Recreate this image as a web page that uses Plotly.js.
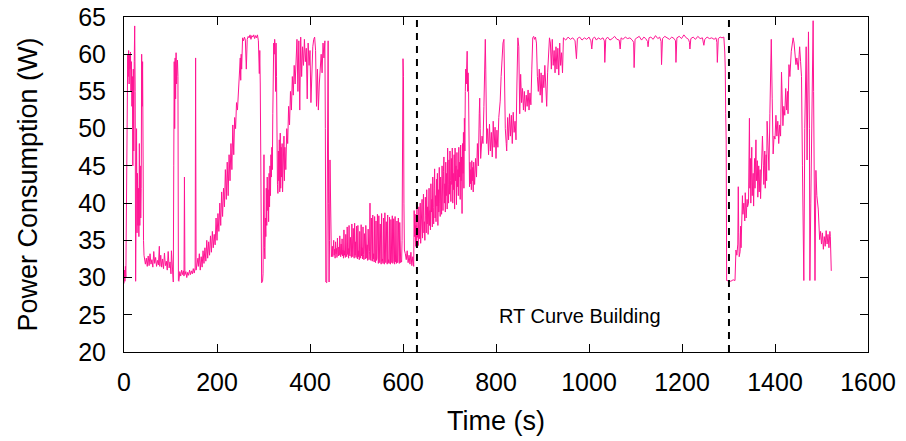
<!DOCTYPE html>
<html>
<head>
<meta charset="utf-8">
<script src="https://cdn.plot.ly/plotly-3.0.1.min.js"></script>
<style>html,body{margin:0;padding:0;background:#fff;}#chart{width:906px;height:441px;}</style>
</head>
<body>
<div id="chart"></div>
<script>
// [time (s), power (W)] samples, grouped by phase
const startup = [[0,29.2],[1,31],[2,29.5],[3,31.5],[4,30],[5,38],[6,52],[8,60],[9,57],[10,60.5],[11,56],[12,60],[13,58],[14,60.3],[15,55],[16,59],[17,53],[18,57],[19,45],[20,58],[21,47],[22,59],[23,63.8],[24,55],[25,29.5],[26,38],[27,50],[28,36],[29,44],[30,37],[31,42],[32,35.5],[33,48],[34,37],[35,45],[36,38],[37,42],[38,60],[39,53],[40,59],[41,40],[42,35],[43,33]];
const idle1 = [[44,32.5],[46,31.8],[48,32.6],[50,31.5],[52,32.9],[54,31.6],[56,33.2],[58,31.8],[60,32.4],[62,31.4],[64,33.5],[66,31.9],[68,32.7],[70,31.5],[72,32.3],[74,31.7],[76,34.2],[77,31.5],[79,33.0],[81,31.4],[83,32.5],[85,31.2],[87,33.3],[89,31.6],[91,32.2],[93,31.0],[95,33.5],[97,31.3],[99,32.1],[101,30.5],[102,33.6],[104,30.2],[105,29.4],[106,29.4],[107,45],[108,59],[109,50],[110,59.5],[111,54],[112,60.2],[113,56],[114,58],[115,59.2],[116,57],[117,29.6],[118,29.5],[120,30.8],[122,30.2],[124,31.0],[126,30.4],[128,30.9],[129,30.2],[130,43.5],[131,30.4],[133,30.8],[135,30.0],[137,30.7],[139,30.3],[141,31.0],[143,30.4],[145,30.9],[147,30.5],[149,31.2],[151,30.6],[153,31.3],[154,59.5],[155,31],[157,31.8],[159,32.6]];
const ramp1 = [[160,31.5],[162,33.2],[164,31.0],[166,32.8],[168,31.4],[170,33.6],[172,31.9],[174,34.0],[176,32.2],[178,35.0],[180,32.6],[182,34.8],[184,33.0],[186,35.6],[188,33.4],[190,36.2],[192,34.0],[194,35.8],[196,34.4],[198,38.0],[200,35.0],[202,38.6],[204,36.2],[206,40.0],[208,37.0],[210,41.5],[212,38.2],[214,42.0],[216,39.5],[218,44.5],[220,40.5],[222,45.5],[224,41.0],[226,46.5],[228,43.0],[230,48.0],[232,44.5],[234,50.5],[236,46.5],[238,51.5],[240,50.0],[242,53.5],[244,52.5],[246,54.5],[248,56.0],[250,59.5],[251,56.5],[252,60.0],[253,58.0],[255,62.2],[257,61.8],[259,62.3],[261,61.9],[263,58.0],[265,62.0],[267,62.4],[269,62.2],[271,62.6],[273,62.0],[275,62.5],[277,62.3],[279,62.6],[281,62.1],[283,62.5],[285,62.2],[287,62.6],[289,61.8],[291,57.4],[292,60.5],[293,56],[294,49.8],[295,40],[296,29.3],[298,29.5],[299,30.5]];
const burst1 = [[300,38],[301,46.5],[302,34],[303,32.5],[304,38],[305,35.5],[306,42],[307,37],[308,43.5],[309,39],[310,41.8],[311,37.5],[312,44],[313,39.5],[314,45],[315,41],[316,46.5],[317,43.5],[318,47.5],[319,44.5],[320,52],[321,58],[322,61.5],[323,60],[324,62],[325,61],[326,55],[327,61.5],[328,57],[329,45],[330,42.5],[331,41.3],[332,47],[333,43],[334,48.5],[335,41.5],[336,49.4],[337,42],[338,47.5],[339,43.5],[340,48],[341,41.5],[342,46],[343,44],[344,49],[345,43],[346,47.5],[348,44.5],[350,50],[352,48],[354,53],[356,50.5],[358,55],[360,52.5],[362,57],[364,54.5],[366,58.5],[368,56],[370,60],[372,62],[374,55],[376,61.8],[378,52.5],[380,62.3],[382,57],[384,61],[386,58.5],[388,62],[390,59],[392,60.8],[394,54],[396,61.5],[398,58.5],[400,60.5],[402,53.5],[404,59.5],[406,61],[408,62],[410,62.3],[412,60.5],[414,53],[416,58],[418,52.5],[420,56],[422,58.5],[424,60],[426,57.5],[428,61.5],[430,59.5],[432,61.8],[433,50],[434,29.4],[436,29.3],[437,45],[438,58],[439,61.8],[440,40],[441,29.4],[442,35],[443,45.8],[444,40],[445,34],[446,32.8]];
const idle2 = [[447,33.3],[448,34.2],[449,32.8],[450,33.6],[451,35.0],[452,33.0],[453,33.8],[454,32.6],[455,34.8],[456,33.2],[457,33.9],[458,32.7],[459,35.3],[460,33.4],[461,32.9],[462,34.1],[463,33.0],[464,35.6],[465,33.3],[466,32.8],[467,34.5],[468,33.1],[469,35.2],[470,32.9],[471,33.7],[472,32.6],[473,36.4],[474,33.0],[475,33.6],[476,32.7],[477,35.8],[478,33.2],[479,32.8],[480,36.8],[481,33.1],[482,33.9],[483,32.6],[484,37.0],[485,33.3],[486,32.9],[487,35.4],[488,33.0],[489,32.7],[490,37.2],[491,33.4],[492,32.8],[493,36.6],[494,33.1],[495,32.6],[496,37.3],[497,33.0],[498,34.8],[499,32.7],[500,36.9],[501,33.2],[502,32.5],[503,37.0],[504,32.8],[505,33.6],[506,32.4],[507,36.2],[508,33.0],[509,32.6],[510,37.1],[511,32.9],[512,34.0],[513,32.5],[514,36.8],[515,33.1],[516,32.4],[517,35.9],[518,32.8],[519,32.5],[520,37.0],[521,33.0],[522,32.6],[523,34.4],[524,32.3],[525,36.5],[526,32.8],[527,32.4],[528,33.5],[529,40.0],[530,32.6],[531,32.3],[532,38.0],[533,32.7],[534,32.2],[535,38.4],[536,32.5],[537,33.2],[538,32.1],[539,38.2],[540,32.4],[541,32.0],[542,37.6],[543,32.3],[544,32.6],[545,38.5],[546,32.2],[547,31.9],[548,38.3],[549,32.4],[550,32.0],[551,37.2],[552,32.3],[553,31.8],[554,38.6],[555,32.2],[556,32.5],[557,31.9],[558,38.0],[559,32.1],[560,31.8],[561,38.7],[562,32.3],[563,32.0],[564,37.5],[565,32.2],[566,31.8],[567,38.4],[568,32.0],[569,32.4],[570,31.9],[571,38.1],[572,32.1],[573,31.8],[574,37.8],[575,32.3],[576,32.0],[577,38.3],[578,31.9],[579,32.2],[580,37.9],[581,32.0],[582,31.8],[583,38.2],[584,32.1],[585,32.3],[586,31.9],[587,37.6],[588,32.0],[589,32.2],[590,38.0],[591,32.1],[592,31.9],[593,37.4],[594,32.2],[595,32.0],[596,32.3],[597,32.1],[598,35],[599,45],[600,59.4],[601,57],[602,40],[603,33.7],[605,33.2],[607,32.4],[609,33.6],[611,32.0],[613,33.0],[615,31.8],[617,33.4],[619,31.6],[621,32.8],[623,31.5],[624,39]];
const rtBuild = [[625,35.5],[626,38.5],[627,34.2],[628,37.0],[629,34.8],[630,39.2],[631,35.4],[632,36.6],[633,34.3],[634,39.5],[635,36.5],[636,35.2],[637,40.0],[638,34.6],[639,37.8],[640,36.0],[641,40.5],[642,35.3],[643,38.2],[644,41.2],[645,36.0],[646,37.5],[647,35.0],[648,40.8],[649,38.3],[650,36.0],[651,41.8],[652,37.2],[653,39.5],[654,35.8],[655,40.6],[656,42.0],[657,37.0],[658,39.0],[659,36.4],[660,42.6],[661,38.8],[662,40.5],[663,36.8],[664,43.5],[665,39.4],[666,37.2],[667,42.0],[668,44.6],[669,38.0],[670,41.0],[671,37.5],[672,43.2],[673,39.6],[674,44.0],[675,37.0],[676,41.8],[677,38.8],[678,44.8],[679,40.0],[680,38.2],[681,43.5],[682,40.6],[683,38.5],[684,45.0],[685,41.5],[686,39.0],[687,44.2],[688,46.2],[689,40.0],[690,42.6],[691,38.8],[692,45.5],[693,41.0],[694,44.0],[695,39.2],[696,47.4],[697,42.5],[698,40.0],[699,45.8],[700,41.2],[701,47.0],[702,43.0],[703,40.2],[704,46.0],[705,42.5],[706,47.4],[707,40.0],[708,44.0],[709,41.8],[710,46.5],[711,39.2],[712,47.4],[713,43.0],[714,45.0],[715,39.8],[716,46.8],[717,42.2],[718,44.5],[719,41.0],[720,47.5],[721,43.5],[722,45.5],[723,40.5],[724,47.8],[725,43.0],[726,46.2],[727,38.6],[728,48.0],[729,44.0],[730,49.5],[731,42.0],[732,51.4],[733,47],[734,55],[735,58],[736,56],[737,59.8],[738,60.4],[739,55],[740,57.5],[741,55],[742,46],[743,42.2],[744,45.5],[745,42.6],[746,44.5],[747,41.8],[748,45.7],[749,43],[750,44.8],[751,41.5],[752,45.5],[753,43.5],[754,42.5],[756,46],[758,43.5],[760,48],[762,45],[764,52],[765,54.1],[766,50],[767,46],[768,47],[770,49],[772,48],[774,53],[776,58],[777,62],[778,58],[779,50],[780,48],[782,50],[784,46.5],[786,50.6],[788,47.0],[790,49.5],[792,46.2],[794,51.0],[796,47.5],[798,50.2],[800,46.0],[802,49.8],[804,47.5],[806,51.5],[808,52.5],[809,53.7],[811,57],[813,60],[815,61.5],[817,62],[818,56],[820,50],[822,48],[823,47],[825,51.5],[827,48.5],[829,52],[831,49],[833,51.8],[835,48],[837,52.2],[839,49.5],[841,51],[843,48.5],[845,56],[847,62.2],[849,61],[850,56],[851,52],[853,57.3],[855,53.5],[857,55.4],[859,52.5],[861,55],[863,52.3],[865,54.5],[867,53],[869,55.2],[871,52.5],[873,54.8],[875,53.2],[877,58],[879,62.2],[881,62.4],[883,62.0],[885,62.3],[887,61.5],[889,57],[891,55],[893,58],[895,54.5],[897,57.5],[899,53.5],[901,57.2],[903,55.5],[905,58.5],[907,54.8],[909,53],[911,57.5],[913,60],[915,62.2],[917,61.5],[919,58],[921,62],[923,58.5],[925,60.5],[927,57.5],[929,61],[931,58],[933,60.8],[935,57.2],[937,61.5],[939,58.5],[941,60.2],[943,57.5]];
const plateau = [[945,62.2],[950,61.9],[955,62.3],[960,62.0],[965,62.2],[970,61.8],[973,59.4],[975,62.1],[980,62.3],[985,61.9],[990,62.2],[995,62.0],[1000,62.3],[1004,61.8],[1006,60.7],[1008,62.1],[1012,62.3],[1016,61.9],[1020,62.2],[1025,62.0],[1030,62.2],[1033,61.8],[1034,58.9],[1036,62.0],[1040,62.3],[1045,61.9],[1050,62.1],[1055,62.4],[1060,62.0],[1065,61.9],[1067,60.7],[1069,62.2],[1073,62.0],[1078,62.3],[1083,62.1],[1088,62.2],[1093,61.9],[1096,61.6],[1097,58.2],[1099,62.0],[1103,62.2],[1108,62.4],[1113,61.9],[1118,62.3],[1122,62.1],[1126,61.7],[1127,61.0],[1129,62.2],[1133,62.3],[1138,62.0],[1143,62.5],[1148,62.1],[1152,62.3],[1155,61.7],[1156,58.6],[1158,62.1],[1163,62.4],[1168,62.2],[1173,62.0],[1178,62.3],[1183,62.1],[1186,61.8],[1187,58.9],[1189,62.2],[1194,62.4],[1199,62.1],[1204,62.6],[1209,62.2],[1214,62.0],[1216,61.6],[1217,60.7],[1219,62.1],[1224,62.3],[1229,62.0],[1234,62.4],[1239,62.1],[1244,62.2],[1246,61.5],[1247,61.2],[1249,62.0],[1254,62.3],[1259,62.1],[1264,62.2],[1269,62.0],[1273,62.2],[1275,61.6],[1276,58.9],[1278,62.1],[1282,62.3],[1286,62.2],[1290,62.3],[1292,60.3],[1293,58],[1294,52],[1295,48.5]];
const finale = [[1296,29.6],[1300,29.6],[1305,29.5],[1310,29.7],[1314,29.6],[1316,33.7],[1318,33.0],[1320,34.5],[1321,42.2],[1322,36],[1323,32.8],[1325,33.5],[1326,36.9],[1327,34],[1329,38],[1330,41.0],[1331,38.5],[1333,40],[1335,37.6],[1336,41.4],[1338,38],[1340,40.5],[1341,39.5],[1343,40],[1345,51.4],[1346,42],[1347,46],[1348,40],[1350,47.5],[1351,41],[1353,44],[1354,39.6],[1356,46],[1357,42],[1359,48.5],[1360,43],[1362,45.7],[1363,40.8],[1365,45],[1366,41.5],[1368,44.5],[1369,40.6],[1371,45],[1373,49.0],[1375,45],[1376,42.5],[1378,47],[1379,42],[1381,46.5],[1382,43],[1383,51.0],[1385,46],[1387,44.4],[1389,52],[1391,58],[1392,62],[1394,54],[1396,46.6],[1398,49],[1400,48.6],[1402,51.8],[1404,49],[1406,51],[1408,48],[1410,50.5],[1412,49],[1414,57.6],[1416,52],[1417,50.4],[1419,53],[1421,51.8],[1423,55.4],[1425,52.5],[1427,55],[1428,52],[1430,58.6],[1432,57],[1435,60.4],[1437,61.5],[1439,62.2],[1441,61.5],[1443,59.5],[1445,58.6],[1447,59.5],[1450,57.9],[1452,60],[1453,61],[1455,59],[1457,57],[1459,45],[1462,29.6],[1464,50],[1466,60.4],[1467,61],[1469,45.8],[1471,55],[1472,63],[1474,50],[1475,29.6],[1477,40],[1479,53.5],[1481,60],[1482,64.5],[1483,55],[1485,38],[1486,29.6],[1488,44.4],[1490,41],[1493,39.2],[1494,37],[1496,35.1],[1498,36.2],[1500,34.5],[1502,36],[1504,33.8],[1506,35.5],[1508,34.2],[1510,36.3],[1512,34.5],[1514,35.8],[1516,34],[1518,36.2],[1519,35.5],[1521,30.9]];

const phaseMarkers = [630, 1301];
const xTicks = [0, 200, 400, 600, 800, 1000, 1200, 1400, 1600];
const yTicks = [20, 25, 30, 35, 40, 45, 50, 55, 60, 65];
const annotationText = "RT Curve Building";

const samples = [].concat(startup, idle1, ramp1, burst1, idle2, rtBuild, plateau, finale);
const timeS = samples.map(p => p[0]);
const powerW = samples.map(p => p[1]);

const FONT = "Liberation Sans, Arial, sans-serif";

const traces = [{
  x: timeS, y: powerW, type: "scatter", mode: "lines",
  line: {color: "#ff1493", width: 1}, hoverinfo: "skip", showlegend: false
}];
phaseMarkers.forEach(t => traces.push({
  x: [t, t], y: [20, 65], type: "scatter", mode: "lines",
  line: {color: "#000", width: 2, dash: "7px,6px"}, showlegend: false, hoverinfo: "skip"
}));

const axisCommon = {
  showline: true, linecolor: "#000", linewidth: 1, mirror: "ticks",
  ticks: "inside", ticklen: 8, tickwidth: 1, tickcolor: "#000",
  showgrid: false, zeroline: false, tickfont: {family: FONT, size: 25, color: "#000"}
};

const layout = {
  width: 906, height: 441,
  margin: {l: 124, r: 38, t: 17, b: 89},
  paper_bgcolor: "#fff", plot_bgcolor: "#fff",
  font: {family: FONT, color: "#000"},
  xaxis: Object.assign({}, axisCommon, {
    range: [0, 1600], tickvals: xTicks, ticktext: xTicks.map(String),
    ticklabelstandoff: 8,
    title: {text: "Time (s)", font: {family: FONT, size: 27, color: "#000"}, standoff: 16}
  }),
  yaxis: Object.assign({}, axisCommon, {
    range: [20, 65], tickvals: yTicks, ticktext: yTicks.map(String),
    ticklabelstandoff: 12,
    title: {text: "Power Consumption (W)", font: {family: FONT, size: 27, color: "#000"}, standoff: 32}
  }),
  annotations: [{
    x: 980, y: 24.8, xref: "x", yref: "y", text: annotationText, showarrow: false,
    font: {family: FONT, size: 20, color: "#000"}
  }]
};

Plotly.newPlot("chart", traces, layout, {staticPlot: true, displayModeBar: false});
</script>
</body>
</html>
